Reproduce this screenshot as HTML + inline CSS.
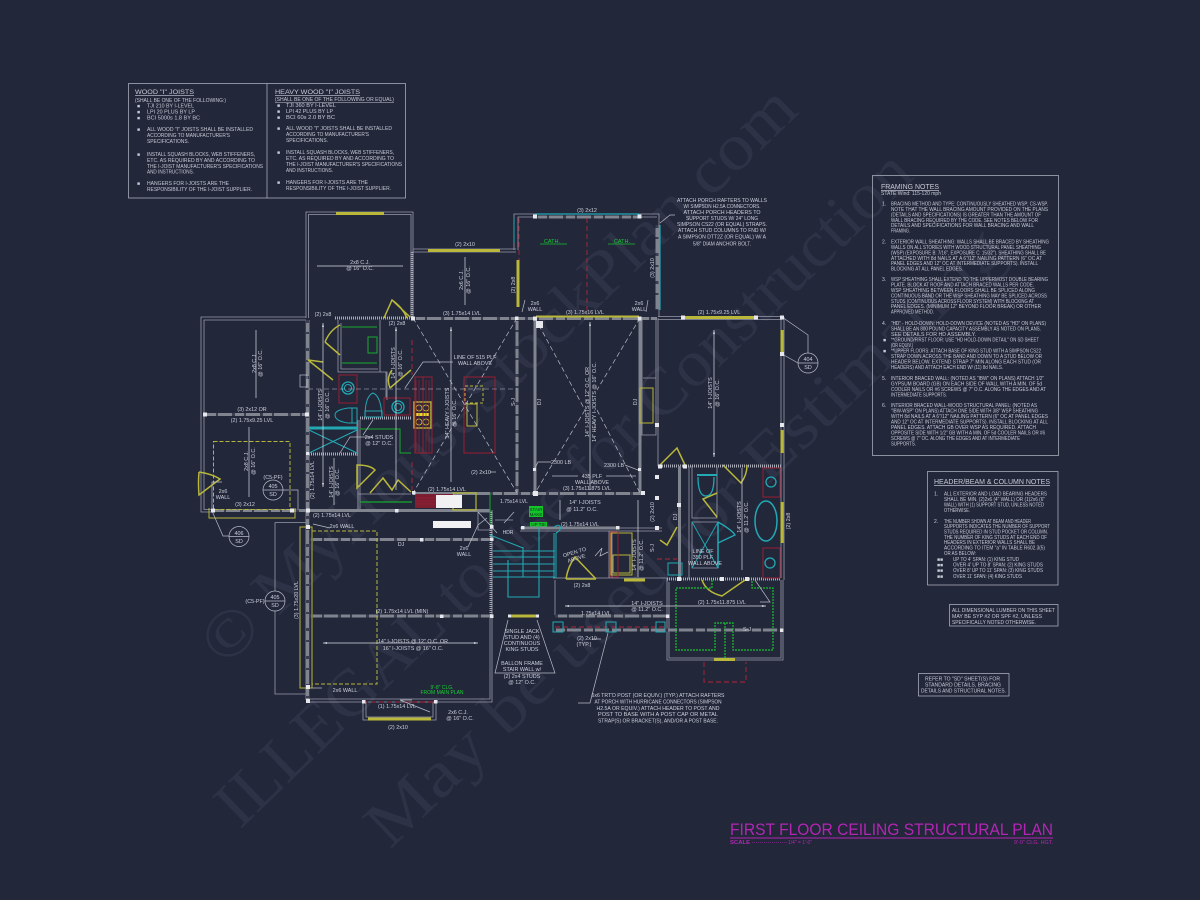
<!DOCTYPE html>
<html><head><meta charset="utf-8"><title>First Floor Ceiling Structural Plan</title>
<style>
html,body{margin:0;padding:0;background:#23273a}
svg{display:block}
text{font-family:"Liberation Sans",sans-serif}
.n text,.n{fill:#c6cad4;font-size:5px}
.p text{fill:#ccd0da;font-size:5.4px;text-anchor:middle}
.wm text{font-family:"Liberation Serif",serif;fill:#2e3246;font-size:66px}
.w{stroke:#979baa;stroke-width:.8;fill:none}
.l{stroke:#b9bcc8;stroke-width:.7;fill:none}
.b{stroke:#80848f;stroke-width:3;fill:none}
.bd{stroke:#3a3e50;stroke-width:3;stroke-dasharray:3 9 2 14;fill:none}
.h{stroke:#a8abb7;stroke-width:3;stroke-dasharray:1 1;fill:none}
.y{stroke:#b7b638;stroke-width:1;fill:none}
.yb{stroke:#b9b83a;stroke-width:3;fill:none}
.g{stroke:#17a82c;stroke-width:1;fill:none}
.gd{stroke:#17c030;stroke-width:1.2;stroke-dasharray:2 1;fill:none}
.c{stroke:#22a9b4;stroke-width:1;fill:none}
.r{stroke:#a51f33;stroke-width:.9;fill:none}
.rd{stroke:#b3263a;stroke-width:.9;stroke-dasharray:5 3;fill:none}
.ar{stroke:#d8dae2;stroke-width:.7;fill:none}
.dx{stroke:#b9bcc8;stroke-width:.7;stroke-dasharray:5 3;fill:none}
.s{fill:#e6e8ee}
</style></head><body>
<svg xmlns="http://www.w3.org/2000/svg" width="1200" height="900" viewBox="0 0 1200 900">
<rect width="1200" height="900" fill="#23273a"/>
<g class="wm">
<text x="225" y="668" transform="rotate(-44 225 668)" textLength="800" lengthAdjust="spacingAndGlyphs">© MyHouseStockPlan.com</text>
<text x="240" y="830" transform="rotate(-44 240 830)" textLength="940" lengthAdjust="spacingAndGlyphs">ILLEGAL to use for Construction</text>
<text x="390" y="850" transform="rotate(-44 390 850)" textLength="860" lengthAdjust="spacingAndGlyphs">May be used for Estimating</text>
</g>

<!-- JOIST TABLE -->
<rect x="128.500" y="83.500" width="277" height="114.500" class="l"/><line x1="267" y1="83.500" x2="267" y2="198" class="l"/>
<g class="n">
<text x="135" y="94" style="font-size:6.600px" textLength="59" lengthAdjust="spacingAndGlyphs" text-decoration="underline">WOOD "I" JOISTS</text>
<text x="135" y="102" textLength="91" lengthAdjust="spacingAndGlyphs">(SHALL BE ONE OF THE FOLLOWING:)</text>
<text x="137" y="107.500">■</text><text x="147" y="107.500" textLength="47" lengthAdjust="spacingAndGlyphs">TJI 210 BY I-LEVEL</text>
<text x="137" y="113.500">■</text><text x="147" y="113.500" textLength="48" lengthAdjust="spacingAndGlyphs">LPI 20 PLUS BY LP</text>
<text x="137" y="119.500">■</text><text x="147" y="119.500" textLength="53" lengthAdjust="spacingAndGlyphs">BCI 5000s 1.8 BY BC</text>
<text x="137" y="131">■</text><text x="147" y="131" textLength="106" lengthAdjust="spacingAndGlyphs">ALL WOOD "I" JOISTS SHALL BE INSTALLED</text>
<text x="147" y="137" textLength="83" lengthAdjust="spacingAndGlyphs">ACCORDING TO MANUFACTURER'S</text>
<text x="147" y="143" textLength="42" lengthAdjust="spacingAndGlyphs">SPECIFICATIONS.</text>
<text x="137" y="156">■</text><text x="147" y="156" textLength="108" lengthAdjust="spacingAndGlyphs">INSTALL SQUASH BLOCKS, WEB STIFFENERS,</text>
<text x="147" y="162" textLength="108" lengthAdjust="spacingAndGlyphs">ETC. AS REQUIRED BY AND ACCORDING TO</text>
<text x="147" y="168" textLength="116" lengthAdjust="spacingAndGlyphs">THE I-JOIST MANUFACTURER'S SPECIFICATIONS</text>
<text x="147" y="173.500" textLength="47" lengthAdjust="spacingAndGlyphs">AND INSTRUCTIONS.</text>
<text x="137" y="185">■</text><text x="147" y="185" textLength="82" lengthAdjust="spacingAndGlyphs">HANGERS FOR I-JOISTS ARE THE</text>
<text x="147" y="191" textLength="105" lengthAdjust="spacingAndGlyphs">RESPONSIBILITY OF THE I-JOIST SUPPLIER.</text>

<text x="275" y="94" style="font-size:6.600px" textLength="85" lengthAdjust="spacingAndGlyphs" text-decoration="underline">HEAVY WOOD "I" JOISTS</text>
<text x="275" y="101" textLength="119" lengthAdjust="spacingAndGlyphs" text-decoration="underline">(SHALL BE ONE OF THE FOLLOWING OR EQUAL)</text>
<text x="277" y="107">■</text><text x="286" y="107" textLength="50" lengthAdjust="spacingAndGlyphs">TJI 360 BY I-LEVEL</text>
<text x="277" y="113">■</text><text x="286" y="113" textLength="47" lengthAdjust="spacingAndGlyphs">LPI 42 PLUS BY LP</text>
<text x="277" y="119">■</text><text x="286" y="119" textLength="49" lengthAdjust="spacingAndGlyphs">BCI 60s 2.0 BY BC</text>
<text x="277" y="130">■</text><text x="286" y="130" textLength="106" lengthAdjust="spacingAndGlyphs">ALL WOOD "I" JOISTS SHALL BE INSTALLED</text>
<text x="286" y="136" textLength="83" lengthAdjust="spacingAndGlyphs">ACCORDING TO MANUFACTURER'S</text>
<text x="286" y="142" textLength="42" lengthAdjust="spacingAndGlyphs">SPECIFICATIONS.</text>
<text x="277" y="154">■</text><text x="286" y="154" textLength="108" lengthAdjust="spacingAndGlyphs">INSTALL SQUASH BLOCKS, WEB STIFFENERS,</text>
<text x="286" y="160" textLength="108" lengthAdjust="spacingAndGlyphs">ETC. AS REQUIRED BY AND ACCORDING TO</text>
<text x="286" y="166" textLength="116" lengthAdjust="spacingAndGlyphs">THE I-JOIST MANUFACTURER'S SPECIFICATIONS</text>
<text x="286" y="172" textLength="47" lengthAdjust="spacingAndGlyphs">AND INSTRUCTIONS.</text>
<text x="277" y="184">■</text><text x="286" y="184" textLength="82" lengthAdjust="spacingAndGlyphs">HANGERS FOR I-JOISTS ARE THE</text>
<text x="286" y="190" textLength="105" lengthAdjust="spacingAndGlyphs">RESPONSIBILITY OF THE I-JOIST SUPPLIER.</text>
</g>

<!-- FRAMING NOTES -->
<rect x="872.500" y="175.500" width="186" height="280" class="l"/>
<g class="n">
<text x="881" y="189" style="font-size:7px" textLength="58" lengthAdjust="spacingAndGlyphs" text-decoration="underline">FRAMING NOTES</text>
<text x="881" y="195" textLength="60" lengthAdjust="spacingAndGlyphs">STATE Wind: 115-120 mph</text>
<text x="882" y="205.500">1.</text>
<text x="891" y="205.500" textLength="157" lengthAdjust="spacingAndGlyphs">BRACING METHOD AND TYPE: CONTINUOUSLY SHEATHED WSP; CS-WSP.</text>
<text x="891" y="211" textLength="157" lengthAdjust="spacingAndGlyphs">NOTE THAT THE WALL BRACING AMOUNT PROVIDED ON THE PLANS</text>
<text x="891" y="216.400" textLength="150" lengthAdjust="spacingAndGlyphs">(DETAILS AND SPECIFICATIONS) IS GREATER THAN THE AMOUNT OF</text>
<text x="891" y="221.800" textLength="147" lengthAdjust="spacingAndGlyphs">WALL BRACING REQUIRED BY THE CODE. SEE NOTES BELOW FOR</text>
<text x="891" y="227.200" textLength="143" lengthAdjust="spacingAndGlyphs">DETAILS AND SPECIFICATIONS FOR WALL BRACING AND WALL</text>
<text x="891" y="232.600" textLength="19" lengthAdjust="spacingAndGlyphs">FRAMING.</text>
<text x="882" y="243.500">2.</text>
<text x="891" y="243.500" textLength="158" lengthAdjust="spacingAndGlyphs">EXTERIOR WALL SHEATHING: WALLS SHALL BE BRACED BY SHEATHING</text>
<text x="891" y="249" textLength="150" lengthAdjust="spacingAndGlyphs">WALLS ON ALL STORIES WITH WOOD STRUCTURAL PANEL SHEATHING</text>
<text x="891" y="254.400" textLength="155" lengthAdjust="spacingAndGlyphs">(WSP) (EXPOSURE B: 7/16", EXPOSURE C: 15/32"). SHEATHING SHALL BE</text>
<text x="891" y="259.800" textLength="151" lengthAdjust="spacingAndGlyphs">ATTACHED WITH 8d NAILS AT A 6"/12" NAILING PATTERN (6" OC AT</text>
<text x="891" y="265.200" textLength="147" lengthAdjust="spacingAndGlyphs">PANEL EDGES AND 12" OC AT INTERMEDIATE SUPPORTS). INSTALL</text>
<text x="891" y="270.600" textLength="72" lengthAdjust="spacingAndGlyphs">BLOCKING AT ALL PANEL EDGES.</text>
<text x="882" y="281">3.</text>
<text x="891" y="281" textLength="157" lengthAdjust="spacingAndGlyphs">WSP SHEATHING SHALL EXTEND TO THE UPPERMOST DOUBLE BEARING</text>
<text x="891" y="286.500" textLength="143" lengthAdjust="spacingAndGlyphs">PLATE. BLOCK AT ROOF AND ATTACH BRACED WALLS PER CODE.</text>
<text x="891" y="292" textLength="144" lengthAdjust="spacingAndGlyphs">WSP SHEATHING BETWEEN FLOORS SHALL BE SPLICED ALONG</text>
<text x="891" y="297.400" textLength="156" lengthAdjust="spacingAndGlyphs">CONTINUOUS BAND OR THE WSP SHEATHING MAY BE SPLICED ACROSS</text>
<text x="891" y="302.800" textLength="143" lengthAdjust="spacingAndGlyphs">STUDS (CONTINUOUS ACROSS FLOOR SYSTEM) WITH BLOCKING AT</text>
<text x="891" y="308.200" textLength="150" lengthAdjust="spacingAndGlyphs">PANEL EDGES. (MINIMUM 12" BEYOND FLOOR BREAK) OR OTHER</text>
<text x="891" y="313.600" textLength="43" lengthAdjust="spacingAndGlyphs">APPROVED METHOD.</text>
<text x="882" y="325">4.</text>
<text x="891" y="325" textLength="155" lengthAdjust="spacingAndGlyphs">"HD" - HOLD-DOWN: HOLD-DOWN DEVICE (NOTED AS "HD" ON PLANS)</text>
<text x="891" y="330.500" textLength="150" lengthAdjust="spacingAndGlyphs">SHALL BE AN 800 POUND CAPACITY ASSEMBLY AS NOTED ON PLANS.</text>
<text x="891" y="336" textLength="85" lengthAdjust="spacingAndGlyphs">SEE DETAILS FOR HD ASSEMBLY.</text>
<text x="883" y="341.500">■</text><text x="891" y="341.500" textLength="148" lengthAdjust="spacingAndGlyphs">**GROUND/FIRST FLOOR: USE "HD HOLD-DOWN DETAIL" ON SD SHEET</text>
<text x="891" y="347" textLength="22" lengthAdjust="spacingAndGlyphs">(OR EQUIV.)</text>
<text x="883" y="352.500">■</text><text x="891" y="352.500" textLength="150" lengthAdjust="spacingAndGlyphs">**UPPER FLOORS: ATTACH BASE OF KING STUD WITH A SIMPSON CS22</text>
<text x="891" y="358" textLength="151" lengthAdjust="spacingAndGlyphs">STRAP DOWN ACROSS THE BAND AND DOWN TO A STUD BELOW OR</text>
<text x="891" y="363.500" textLength="150" lengthAdjust="spacingAndGlyphs">HEADER BELOW. EXTEND STRAP 7" MIN ALONG EACH STUD (OR</text>
<text x="891" y="369" textLength="112" lengthAdjust="spacingAndGlyphs">HEADERS) AND ATTACH EACH END W/ (11) 8d NAILS.</text>
<text x="882" y="380">5.</text>
<text x="891" y="380" textLength="153" lengthAdjust="spacingAndGlyphs">INTERIOR BRACED WALL: (NOTED AS "IBW" ON PLANS) ATTACH 1/2"</text>
<text x="891" y="385.500" textLength="151" lengthAdjust="spacingAndGlyphs">GYPSUM BOARD (GB) ON EACH SIDE OF WALL WITH A MIN. OF 5d</text>
<text x="891" y="391" textLength="155" lengthAdjust="spacingAndGlyphs">COOLER NAILS OR #6 SCREWS @ 7" O.C. ALONG THE EDGES AND AT</text>
<text x="891" y="396.500" textLength="56" lengthAdjust="spacingAndGlyphs">INTERMEDIATE SUPPORTS.</text>
<text x="882" y="407">6.</text>
<text x="891" y="407" textLength="146" lengthAdjust="spacingAndGlyphs">INTERIOR BRACED WALL-WOOD STRUCTURAL PANEL: (NOTED AS</text>
<text x="891" y="412.500" textLength="147" lengthAdjust="spacingAndGlyphs">"IBW-WSP" ON PLANS) ATTACH ONE SIDE WITH 3/8" WSP SHEATHING</text>
<text x="891" y="418" textLength="157" lengthAdjust="spacingAndGlyphs">WITH 8d NAILS AT A 6"/12" NAILING PATTERN (6" OC AT PANEL EDGES</text>
<text x="891" y="423.500" textLength="157" lengthAdjust="spacingAndGlyphs">AND 12" OC AT INTERMEDIATE SUPPORTS). INSTALL BLOCKING AT ALL</text>
<text x="891" y="429" textLength="145" lengthAdjust="spacingAndGlyphs">PANEL EDGES. ATTACH GB OVER WSP AS REQUIRED. ATTACH</text>
<text x="891" y="434.500" textLength="154" lengthAdjust="spacingAndGlyphs">OPPOSITE SIDE WITH 1/2" GB WITH A MIN. OF 5d COOLER NAILS OR #6</text>
<text x="891" y="440" textLength="129" lengthAdjust="spacingAndGlyphs">SCREWS @ 7" OC. ALONG THE EDGES AND AT INTERMEDIATE</text>
<text x="891" y="445.500" textLength="25" lengthAdjust="spacingAndGlyphs">SUPPORTS.</text>
</g>

<!-- HEADER NOTES -->
<rect x="927.500" y="471.500" width="130.500" height="113.500" class="l"/>
<g class="n">
<text x="934" y="484" style="font-size:7px" textLength="116" lengthAdjust="spacingAndGlyphs" text-decoration="underline">HEADER/BEAM &amp; COLUMN NOTES</text>
<text x="934" y="495.500">1.</text>
<text x="944" y="495.500" textLength="103" lengthAdjust="spacingAndGlyphs">ALL EXTERIOR AND LOAD BEARING HEADERS</text>
<text x="944" y="501" textLength="101" lengthAdjust="spacingAndGlyphs">SHALL BE MIN. (2)2x6 (4" WALL) OR (1)2x6 (6"</text>
<text x="944" y="506.500" textLength="100" lengthAdjust="spacingAndGlyphs">WALL) WITH (1) SUPPORT STUD, UNLESS NOTED</text>
<text x="944" y="512" textLength="26" lengthAdjust="spacingAndGlyphs">OTHERWISE.</text>
<text x="934" y="523">2.</text>
<text x="944" y="523" textLength="87" lengthAdjust="spacingAndGlyphs">THE NUMBER SHOWN AT BEAM AND HEADER</text>
<text x="944" y="528" textLength="106" lengthAdjust="spacingAndGlyphs">SUPPORTS INDICATES THE NUMBER OF SUPPORT</text>
<text x="944" y="533.500" textLength="104" lengthAdjust="spacingAndGlyphs">STUDS REQUIRED IN STUD POCKET OR COLUMN.</text>
<text x="944" y="539" textLength="103" lengthAdjust="spacingAndGlyphs">THE NUMBER OF KING STUDS AT EACH END OF</text>
<text x="944" y="544" textLength="91" lengthAdjust="spacingAndGlyphs">HEADERS IN EXTERIOR WALLS SHALL BE</text>
<text x="944" y="549.500" textLength="101" lengthAdjust="spacingAndGlyphs">ACCORDING TO ITEM "a" IN TABLE R602.3(5)</text>
<text x="944" y="555" textLength="32" lengthAdjust="spacingAndGlyphs">OR AS BELOW:</text>
<text x="937" y="561">■■</text><text x="953" y="561" textLength="66" lengthAdjust="spacingAndGlyphs">UP TO 4' SPAN: (1) KING STUD</text>
<text x="937" y="566.500">■■</text><text x="953" y="566.500" textLength="90" lengthAdjust="spacingAndGlyphs">OVER 4' UP TO 8' SPAN: (2) KING STUDS</text>
<text x="937" y="572">■■</text><text x="953" y="572" textLength="90" lengthAdjust="spacingAndGlyphs">OVER 8' UP TO 11' SPAN: (3) KING STUDS</text>
<text x="937" y="578">■■</text><text x="953" y="578" textLength="69" lengthAdjust="spacingAndGlyphs">OVER 11' SPAN: (4) KING STUDS</text>
</g>
<rect x="949.500" y="604.500" width="108.500" height="21.500" class="l"/>
<g class="n">
<text x="952" y="612" textLength="103" lengthAdjust="spacingAndGlyphs">ALL DIMENSIONAL LUMBER ON THIS SHEET</text>
<text x="952" y="618" textLength="90" lengthAdjust="spacingAndGlyphs">MAY BE SYP #2 OR SPF #2, UNLESS</text>
<text x="952" y="624" textLength="84" lengthAdjust="spacingAndGlyphs">SPECIFICALLY NOTED OTHERWISE.</text>
</g>
<rect x="918.500" y="673.500" width="90.500" height="22.500" class="l"/>
<g class="n">
<text x="925" y="680.500" textLength="75" lengthAdjust="spacingAndGlyphs">REFER TO "SD" SHEET(S) FOR</text>
<text x="925" y="686.500" textLength="76" lengthAdjust="spacingAndGlyphs">STANDARD DETAILS, BRACING</text>
<text x="921" y="692.500" textLength="85" lengthAdjust="spacingAndGlyphs">DETAILS AND STRUCTURAL NOTES.</text>
</g>

<!-- TITLE -->
<text x="730" y="835" style="font-size:17px" fill="#b425b4" textLength="323" lengthAdjust="spacingAndGlyphs">FIRST FLOOR CEILING STRUCTURAL PLAN</text>
<line x1="730" y1="838" x2="1053" y2="838" stroke="#b425b4" stroke-width="1"/>
<text x="730" y="844" style="font-size:5.500px;font-weight:bold" fill="#b425b4" textLength="20" lengthAdjust="spacingAndGlyphs">SCALE</text>
<line x1="752" y1="842.500" x2="787" y2="842.500" stroke="#b425b4" stroke-width=".6" stroke-dasharray="1 1"/>
<text x="788" y="844" style="font-size:5.500px" fill="#b425b4" textLength="24" lengthAdjust="spacingAndGlyphs">1/4" = 1'-0"</text>
<text x="1014" y="844" style="font-size:5.500px" fill="#b425b4" textLength="39" lengthAdjust="spacingAndGlyphs">9'-0" CLG. HGT.</text>

<!-- EXTERIOR WALLS -->
<g class="w">
<path d="M306 318V212H413V318M308.500 318V214.500H411V318"/>
<path d="M413 250V318M413 249H516M413 252H516"/>
<path d="M514 250V214H659V317M518 250V217H657"/>
<path d="M306 317H201V512H212M306 320H204V509.500H212"/>
<path d="M309 320V510"/>
<path d="M658 318V466"/>
<path d="M658 316.500H782M658 319.500H782M781 317V466M784 317V580"/>
<path d="M781 466V578"/>
<path d="M492 510V702H308M490 616V699H308"/>
<path d="M275 522.500H307M275 522.500V591M275 611V694H308"/>
<path d="M363 702V720H436V702M366 702V717H433V702"/>
<path d="M555 580V615M553 578H667V615M667 580V660H783V580M669 582V658H781V580"/>
<path d="M358 420V510M360 420V510"/>
<path d="M338 320V372H380V320M341 323V369H378"/>
<path d="M380 372H387V400M386 372V398"/>
<path d="M692 466V518H717V467M692 522H718V568H692ZM689 466V579"/>
<path d="M520 528H662M520 531H662"/>
<path d="M609 531V578M612 531V578"/>
<path d="M306 510V700M357 420V456"/>
<path d="M358 494H411M358 491V510"/>
<path d="M656 320V435H642V320M643 378H656"/>
<path d="M495 520H513"/>
<path d="M478 512H492V530H478Z"/>
</g>

<!-- HATCHED -->
<g class="h">
<line x1="335" y1="318" x2="413" y2="318"/>
<line x1="412" y1="252" x2="412" y2="318"/>
<line x1="360" y1="418" x2="411" y2="418"/>
<line x1="309" y1="454" x2="357" y2="454"/>
<line x1="360" y1="510.500" x2="490" y2="510.500"/>
<line x1="491" y1="512" x2="491" y2="616"/>
<line x1="660" y1="466" x2="782" y2="466"/>
<line x1="667" y1="579" x2="780" y2="579"/>
</g>

<!-- BEAMS -->
<g class="b">
<path d="M413 318.500H657"/>
<path d="M204 414.500H307"/>
<path d="M212 510.500H308"/>
<path d="M308 510.500H490"/>
<path d="M307.500 320V700" stroke-width="3.500"/>
<path d="M535 217H639"/>
<path d="M535 318V493"/>
<path d="M640 318V493"/>
<path d="M517 318V493"/>
<path d="M490 493.500H643"/>
<path d="M413 493.500H490"/>
<path d="M310 539.500H492"/>
<path d="M310 616H492"/>
<path d="M657 225V310"/>
<path d="M555 616H668"/>
<path d="M553 630H783"/>
<path d="M522 528H618"/>
<path d="M679.500 466V579"/>
</g>
<g class="bd">
<path d="M413 318.500H657"/><path d="M204 414.500H307"/><path d="M212 510.500H308"/><path d="M535 217H639"/>
<path d="M517 318V493"/><path d="M490 493.500H643"/><path d="M310 539.500H492"/><path d="M310 616H492"/>
<path d="M307.500 320V700"/><path d="M657 225V310"/><path d="M553 630H783" stroke="#2f3346"/><path d="M555 616H668"/>
</g>

<!-- YELLOW -->
<g class="yb">
<path d="M336 213.500H384"/><path d="M428 250.500H500"/>
<path d="M518 260V307"/><path d="M683 317.500H756"/>
<path d="M782 330V353"/><path d="M782 430V453"/><path d="M782 502V543"/>
<path d="M536 316.500H639" stroke-width="2"/>
<path d="M624 580H645"/><path d="M714 659.500H735"/><path d="M368 719H431"/><path d="M510 616H537"/>
</g>
<g class="y">
<path d="M209 508V518H295V508"/>
<rect x="300" y="527" width="12" height="161"/>
<path d="M312 531H377V684H312" stroke-dasharray="4 2"/>
<rect x="213.500" y="441.500" width="76.500" height="68" stroke-dasharray="4 2"/>
<rect x="640" y="388" width="13" height="35"/>
<rect x="465" y="386" width="18" height="17" stroke-dasharray="3 2"/>
<rect x="467" y="404" width="10" height="22"/>
<rect x="414" y="402" width="17" height="26" stroke-width="1.500"/>
<rect x="453" y="493" width="23" height="17" stroke-width="1.200"/>
<rect x="611" y="533" width="21" height="42"/><rect x="613" y="555" width="17" height="18"/>
<circle cx="419" cy="408" r="3"/><circle cx="426" cy="408" r="3"/><circle cx="419" cy="422" r="3"/><circle cx="426" cy="422" r="3"/>
</g>
<rect x="416" y="413" width="13" height="3" fill="#e0dd30"/>
<!-- DOORS -->
<g stroke="#b9b83a" stroke-width="1.500" fill="none">
<path d="M384 318L392 300Q403 308 407 318M392 300L410 317"/>
<path d="M390 388Q386 378 392 370M390 388L411 370"/>
<path d="M325 342L340 355M325 342Q330 330 340 325"/>
<path d="M308 360L333 380M308 360L323 362"/>
<path d="M199 472Q212 474 220 479L199 495Q198 483 199 472"/>
<path d="M357 465Q370 465 375 470L357 488Z"/>
<path d="M370 493L383 478L392 490L398 480L411 492"/>
<path d="M660 465L677 448L685 465"/>
<path d="M566 579Q568 566 575 557L596 579M566 579H596"/>
<path d="M660 540L667 545L677 527"/>
<path d="M702 580Q706 592 722 596L745 580"/>
<path d="M723 465L741 483Q747 475 747 465"/>
<path d="M717 493L703 499L717 517"/>
</g>

<!-- GREEN / RED / TEAL -->
<g class="g">
<path d="M342 327H377M342 363H377"/><rect x="368" y="337" width="9" height="16"/>
<path d="M360 429H400V453H411"/>
<path d="M360 502H412" stroke-width="1.300"/>
<path d="M490 493V527"/>
</g>
<path class="gd" d="M712 580V588H676V650H715V623H733V650H773V588H752V580"/>
<path class="gd" d="M725 623V658" stroke-dasharray="3 2"/>
<g class="r">
<rect x="339" y="375" width="18" height="28"/><rect x="384" y="398" width="26" height="17"/>
<rect x="415" y="377" width="17" height="76"/><line x1="423" y1="377" x2="423" y2="453"/>
<rect x="464" y="377" width="31" height="76"/>
<rect x="610" y="532" width="8" height="45"/>
<rect x="763" y="468" width="17" height="29"/><rect x="763" y="548" width="17" height="30"/>
</g>
<rect x="415" y="494" width="38" height="14" fill="#7a1e30"/>
<g stroke="#a51f33" stroke-width=".6"><path d="M415 498H452M415 501H452M415 504H452M416 380V453M419 380V453M426 380V453M429 380V453"/></g>
<rect x="436" y="495" width="26" height="13" fill="#f1f1f3"/>
<rect x="433" y="521" width="38" height="7" fill="#f1f1f3"/>
<g class="rd">
<path d="M587 218V315"/><path d="M519 218V260"/><path d="M412 340V375M412 462V490"/>
<path d="M404 702H436M363 702H400"/>
<path d="M657 559H677"/>
<path d="M704 662V682H746V662"/>
<path d="M555 627H664"/>
</g>
<g class="c">
<path d="M535 214H639" stroke-width="1.200"/><path d="M514 218V243"/><path d="M660 225V310" stroke-width="1.200"/>
<circle cx="348" cy="388" r="6" stroke-width="1.300"/><circle cx="348" cy="388" r="3.500"/>
<circle cx="398" cy="407" r="6" stroke-width="1.300"/><circle cx="398" cy="407" r="3.500"/>
<path d="M357 408H348Q335 410 335 415Q335 421 348 423H357Z"/><path d="M352 408V423"/>
<path d="M365 417Q365 396 373 393Q381 396 382 417M365 417H382V411H365Z"/>
<path d="M309 428H357" stroke-width="3"/><path d="M309 430L357 453M309 453L357 430"/>
<circle cx="771" cy="482" r="5" stroke-width="1.300"/><circle cx="770" cy="563" r="5" stroke-width="1.300"/>
<ellipse cx="766" cy="521" rx="11" ry="20" stroke-width="1.500"/>
<path d="M697 475H717" stroke-width="2"/>
<path d="M698 477Q698 496 706 496Q714 496 714 477" stroke-width="1.300"/>
<path d="M692 522L718 568M718 522L692 568" stroke-width=".9"/>
<path d="M718 522V568" stroke-width="1.500"/>
<path d="M718 522Q732 530 735 535L718 543" stroke-width="1.300"/>
<path d="M490 535L523 548M493 551H555M493 557H555M493 564H555M493 571H555M493 577H555"/>
<path d="M523 547V577M539 527V597H508V560" stroke-width="1.100"/>
<path d="M554 533V578M556 533V578"/>
<path d="M556 533Q562 530 560 526Q558 524 554 527"/>
<rect x="668" y="563" width="14" height="12"/>
<path d="M553 622H563V632H553ZM606 622H616V632H606ZM656 622H665V632H656Z"/>
</g>

<!-- DASHED X -->
<g class="dx">
<path d="M413 318L517 493M517 318L413 493"/>
<path d="M535 318L585 410M597 410L640 493M640 318L597 390M585 410L535 493"/>
<path d="M308 389H517" stroke-width=".6"/>
</g>

<!-- ARROWS -->
<g class="ar">
<path d="M323 323V487M396 327V490M451 327V482M465 257V305M317 266H403M256 330V398M249 427V497M334 458V505M590 322V490M714 330V457M323 643H478M560 500V520M638 500V577M565 606H766"/>
<path d="M742 468V570"/>
</g>
<g fill="#d8dae2"><path d="M323 323l-1 4h2zM323 487l-1-4h2zM396 327l-1 4h2zM451 327l-1 4h2zM323 643l4-1v2zM478 643l-4-1v2zM590 322l-1 4h2zM714 330l-1 4h2zM714 457l-1-4h2zM565 606l4-1v2zM766 606l-4-1v2z"/></g>

<!-- LEADERS -->
<g class="l">
<path d="M453 362H423L405 388"/>
<path d="M373 420L363 435M372 437H350L340 453"/>
<path d="M660 223L670 215H675"/>
<path d="M782 317L808 335V353M782 354L798 363"/>
<path d="M212 511L223 536H229"/>
<path d="M298 510V490H283"/>
<path d="M508 620L495 673H555L537 620"/>
<path d="M578 703H590L608 633M592 639H601"/>
<path d="M522 312L525 300M646 312L648 300"/>
<path d="M222 482H212V508M313 524L330 528M312 688H322"/>
<path d="M490 472H496M551 462H538L535 468M625 465L638 470"/>
<path d="M552 476H578M606 476H636"/>
<path d="M412 700H400L430 712"/>
<path d="M760 602H770L755 580"/>
<path d="M497 533L490 525L478 512M468 547L478 525L487 518"/>
<path d="M514 512L504 523"/>
</g>

<!-- SQUARES -->
<g class="s">
<rect x="203" y="412.500" width="4" height="4"/><rect x="305" y="412.500" width="4" height="4"/><rect x="306" y="452" width="3" height="3"/>
<rect x="211" y="508.500" width="4" height="4"/><rect x="290" y="508.500" width="4" height="4"/><rect x="306" y="508.500" width="4" height="4"/>
<rect x="411" y="316.500" width="4" height="4"/><rect x="515" y="316.500" width="3.500" height="3.500"/><rect x="533" y="316.500" width="4" height="4"/><rect x="637.500" y="316.500" width="4" height="4"/>
<rect x="533" y="214.500" width="4" height="4"/><rect x="637.500" y="214.500" width="4" height="4"/>
<rect x="536" y="321" width="7" height="7"/>
<rect x="412" y="491" width="3.500" height="3.500"/><rect x="533" y="491" width="5" height="5"/><rect x="641" y="491" width="4" height="4"/>
<rect x="533" y="468" width="3" height="3"/><rect x="638" y="468" width="3" height="3"/>
<rect x="681" y="315.500" width="4" height="4"/><rect x="754" y="315.500" width="4" height="4"/><rect x="780" y="315.500" width="4" height="4"/><rect x="780" y="352" width="4" height="4"/><rect x="780" y="423" width="4" height="4"/><rect x="655" y="423" width="4" height="4"/>
<rect x="658" y="464.500" width="4" height="4"/><rect x="683" y="464.500" width="4" height="4"/><rect x="655" y="475" width="4" height="4"/><rect x="655" y="496" width="4" height="4"/><rect x="655" y="526" width="4" height="4"/><rect x="677" y="503" width="4" height="4"/>
<rect x="677" y="577" width="4" height="4"/><rect x="720" y="577" width="4" height="4"/><rect x="745" y="577" width="4" height="4"/>
<rect x="395" y="509" width="3.500" height="3.500"/><rect x="306" y="525" width="4" height="4"/><rect x="306" y="685" width="4" height="4"/><rect x="306" y="699" width="4" height="4"/>
<rect x="420" y="538" width="3.500" height="3.500"/><rect x="440" y="614.500" width="3.500" height="3.500"/><rect x="490" y="614.500" width="3.500" height="3.500"/><rect x="490" y="537.500" width="3.500" height="3.500"/><rect x="490" y="525" width="3.500" height="3.500"/>
<rect x="362" y="700" width="3.500" height="3.500"/><rect x="434" y="700" width="3.500" height="3.500"/>
<rect x="508" y="614.500" width="3" height="3"/><rect x="536" y="614.500" width="3" height="3"/><rect x="666" y="614.500" width="3.500" height="3.500"/><rect x="780" y="628.500" width="3.500" height="3.500"/>
<rect x="521" y="526" width="3.500" height="3.500"/><rect x="616" y="526" width="3.500" height="3.500"/>
</g>

<!-- BUBBLES -->
<g stroke="#b9bcc8" stroke-width=".7" fill="#23273a">
<circle cx="273" cy="490" r="10"/><circle cx="239" cy="536.500" r="10"/><circle cx="275" cy="601" r="10"/><circle cx="808" cy="363" r="10"/>
<path d="M263 490H283M229 536.500H249M265 601H285M798 363H818"/>
</g>
<rect x="300" y="375" width="7" height="12" class="l"/>

<!-- PLAN LABELS -->
<g class="p">
<text x="273" y="488">405</text><text x="273" y="496">SD</text>
<text x="239" y="535">406</text><text x="239" y="543">SD</text>
<text x="275" y="599">405</text><text x="275" y="607">SD</text>
<text x="808" y="361">404</text><text x="808" y="369">SD</text>
<text x="273" y="479">(C5-PF)</text><text x="255" y="603">(C5-PF)</text>
<text x="587" y="212">(3) 2x12</text><text x="465" y="246">(2) 2x10</text><text x="323" y="316">(2) 2x8</text><text x="397" y="325">(2) 2x8</text>
<text x="462" y="315">(3) 1.75x14 LVL</text><text x="585" y="314">(3) 1.75x16 LVL</text><text x="719" y="314">(2) 1.75x9.25 LVL</text>
<text x="360" y="264">2x8 C.J.</text><text x="360" y="270">@ 16" O.C.</text>
<text x="252" y="411">(3) 2x12 OR</text><text x="252" y="422">(2) 1.75x9.25 LVL</text><text x="245" y="506">(3) 2x12</text>
<text x="223" y="493">2x6</text><text x="223" y="499">WALL</text>
<text x="379" y="439">2x4 STUDS</text><text x="379" y="445">@ 12" O.C.</text>
<text x="475" y="359">LINE OF 515 PLF</text><text x="475" y="365">WALL ABOVE</text>
<text x="535" y="305">2x6</text><text x="535" y="311">WALL</text><text x="639" y="305">2x6</text><text x="639" y="311">WALL</text>
<text x="561" y="464">2300 LB</text><text x="614" y="467">2300 LB</text>
<text x="592" y="478">435 PLF</text><text x="592" y="484">WALL ABOVE</text><text x="587" y="490">(3) 1.75x11.875 LVL</text>
<text x="447" y="491">(2) 1.75x14 LVL</text><text x="481" y="474">(2) 2x10</text>
<text x="332" y="517">(2) 1.75x14 LVL</text><text x="342" y="528">2x6 WALL</text><text x="345" y="692">2x6 WALL</text>
<text x="401" y="546">DJ</text><text x="402" y="613">(2) 1.75x14 LVL (MIN)</text>
<text x="464" y="550">2x6</text><text x="464" y="556">WALL</text>
<text x="413" y="643">14" I-JOISTS @ 12" O.C. OR</text><text x="413" y="650">16" I-JOISTS @ 16" O.C.</text>
<text x="397" y="708">(1) 1.75x14 LVL</text><text x="398" y="729">(2) 2x10</text><text x="458" y="714">2x6 C.J.</text><text x="460" y="720">@ 16" O.C.</text>
<text x="514" y="503" style="font-size:5px">1.75x14 LVL</text>
<text x="585" y="504">14" I-JOISTS</text><text x="582" y="511">@ 11.2" O.C.</text><text x="580" y="526">(2) 1.75x14 LVL</text>
<text x="582" y="587">(2) 2x8</text><text x="596" y="615">1.75x14 LVL</text>
<text x="647" y="605">14" I-JOISTS</text><text x="647" y="611">@ 11.2" O.C.</text><text x="722" y="604">(2) 1.75x11.875 LVL</text><text x="747" y="631">S-J</text>
<text x="587" y="640">(2) 2x10</text><text x="584" y="646">(TYP.)</text>
<text x="522" y="633">SINGLE JACK</text><text x="522" y="639">STUD AND (4)</text><text x="522" y="645">CONTINUOUS</text><text x="522" y="651">KING STUDS</text>
<text x="522" y="665">BALLON FRAME</text><text x="522" y="671">STAIR WALL w/</text><text x="522" y="678">(2) 2x4 STUDS</text><text x="522" y="684">@ 12" O.C.</text>
<text x="703" y="553">LINE OF</text><text x="703" y="559">350 PLF</text><text x="705" y="565">WALL ABOVE</text>
<text x="508" y="534" style="font-size:5px">HDR</text>
<text x="722" y="202" textLength="90" lengthAdjust="spacingAndGlyphs">ATTACH PORCH RAFTERS TO WALLS</text>
<text x="722" y="208" textLength="77" lengthAdjust="spacingAndGlyphs">W/ SIMPSON H2.5A CONNECTORS.</text>
<text x="722" y="214" textLength="77" lengthAdjust="spacingAndGlyphs">ATTACH PORCH HEADERS TO</text>
<text x="722" y="220" textLength="72" lengthAdjust="spacingAndGlyphs">SUPPORT STUDS W/ 24" LONG</text>
<text x="722" y="226" textLength="90" lengthAdjust="spacingAndGlyphs">SIMPSON CS22 (OR EQUAL) STRAPS.</text>
<text x="722" y="232" textLength="88" lengthAdjust="spacingAndGlyphs">ATTACH STUD COLUMNS TO FND W/</text>
<text x="722" y="238.500" textLength="88" lengthAdjust="spacingAndGlyphs">A SIMPSON DTT2Z (OR EQUAL) W/ A</text>
<text x="722" y="245.500" textLength="58" lengthAdjust="spacingAndGlyphs">5/8" DIAM ANCHOR BOLT.</text>
<text x="658" y="697" textLength="133" lengthAdjust="spacingAndGlyphs">6x6 TRT'D POST (OR EQUIV.) (TYP.) ATTACH RAFTERS</text>
<text x="658" y="703.500" textLength="127" lengthAdjust="spacingAndGlyphs">AT PORCH WITH HURRICANE CONNECTORS (SIMPSON</text>
<text x="658" y="710" textLength="123" lengthAdjust="spacingAndGlyphs">H2.5A OR EQUIV.) ATTACH HEADER TO POST AND</text>
<text x="658" y="716" textLength="120" lengthAdjust="spacingAndGlyphs">POST TO BASE WITH A POST CAP OR METAL</text>
<text x="658" y="722.500" textLength="120" lengthAdjust="spacingAndGlyphs">STRAP(S) OR BRACKET(S), AND/OR A POST BASE.</text>

<!-- rotated -->
<text transform="rotate(-90 256 363)" x="256" y="363">2x8 C.J.</text><text transform="rotate(-90 262 363)" x="262" y="363">@ 16" O.C.</text>
<text transform="rotate(-90 248 461)" x="248" y="461">2x8 C.J.</text><text transform="rotate(-90 255 461)" x="255" y="461">@ 16" O.C.</text>
<text transform="rotate(-90 463 280)" x="463" y="280">2x6 C.J.</text><text transform="rotate(-90 470 280)" x="470" y="280">@ 16" O.C.</text>
<text transform="rotate(-90 322 405)" x="322" y="405">14" I-JOISTS</text><text transform="rotate(-90 329 405)" x="329" y="405">@ 16" O.C.</text>
<text transform="rotate(-90 395 363)" x="395" y="363">14" I-JOISTS</text><text transform="rotate(-90 402 363)" x="402" y="363">@ 16" O.C.</text>
<text transform="rotate(-90 449 413)" x="449" y="413">14" HEAVY I-JOISTS</text><text transform="rotate(-90 456 413)" x="456" y="413">@ 16" O.C.</text>
<text transform="rotate(-90 333 482)" x="333" y="482">14" I-JOISTS</text><text transform="rotate(-90 339 482)" x="339" y="482">@ 16" O.C.</text>
<text transform="rotate(-90 589 402)" x="589" y="402">14" I-JOISTS @ 12" O.C. OR</text><text transform="rotate(-90 596 402)" x="596" y="402">14" HEAVY I-JOISTS @ 16" O.C.</text>
<text transform="rotate(-90 712 393)" x="712" y="393">14" I-JOISTS</text><text transform="rotate(-90 719 393)" x="719" y="393">@ 16" O.C.</text>
<text transform="rotate(-90 636 555)" x="636" y="555">14" I-JOISTS</text><text transform="rotate(-90 643 555)" x="643" y="555">@ 11.2" O.C.</text>
<text transform="rotate(-90 741 517)" x="741" y="517">14" I-JOISTS</text><text transform="rotate(-90 748 517)" x="748" y="517">@ 11.2" O.C.</text>
<text transform="rotate(-90 515 402)" x="515" y="402">S-J</text><text transform="rotate(-90 541 402)" x="541" y="402">DJ</text><text transform="rotate(-90 637 402)" x="637" y="402">DJ</text>
<text transform="rotate(-90 515 285)" x="515" y="285">(2) 2x8</text><text transform="rotate(-90 654 268)" x="654" y="268">(3) 2x10</text>
<text transform="rotate(-90 314 480)" x="314" y="480">(2) 1.75x14 LVL</text><text transform="rotate(-90 298 600)" x="298" y="600">(3) 1.75x20 LVL</text>
<text transform="rotate(-90 654 512)" x="654" y="512">(2) 2x10</text><text transform="rotate(-90 677 517)" x="677" y="517">DJ</text><text transform="rotate(-90 654 548)" x="654" y="548">S-J</text><text transform="rotate(-90 790 521)" x="790" y="521">(2) 2x8</text>
<text transform="rotate(-17 575 554)" x="575" y="554">OPEN TO</text><text transform="rotate(-17 577 560)" x="577" y="560">ABOVE</text>
</g>
<path class="l" d="M595 556L602 548L600 556L608 552"/>
<rect x="529" y="506" width="14" height="11" fill="#12c42a"/>
<rect x="530" y="522" width="17" height="4.500" fill="#12c42a"/>
<g fill="#18d034">
<text x="552" y="243" style="font-size:5.500px" text-anchor="middle">CATH.</text><text x="622" y="243" style="font-size:5.500px" text-anchor="middle">CATH.</text>
<text x="442" y="689" style="font-size:5px" text-anchor="middle">9'-8" CLG.</text><text x="442" y="694" style="font-size:5px" text-anchor="middle">FROM MAIN PLAN</text>
</g>
<g fill="#10321c">
<text x="536" y="511" style="font-size:4.500px" text-anchor="middle">STAIR</text><text x="536" y="516" style="font-size:4.500px" text-anchor="middle">MAKE</text>
<text x="538.500" y="526" style="font-size:4.500px" text-anchor="middle">UP TBI</text>
</g>
<path d="M540 244H567M608 244H635" stroke="#17c030" stroke-width=".8"/>
</svg>
</body></html>
